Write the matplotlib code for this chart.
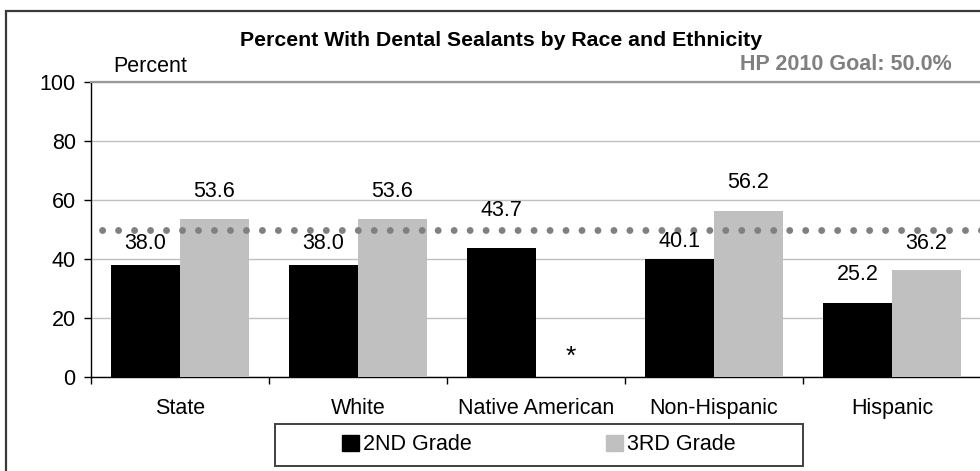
#!/usr/bin/env python

import numpy as np
import matplotlib
matplotlib.use('Agg')
import matplotlib.pyplot as plt
from matplotlib.patches import Rectangle, Patch

plt.rcParams['font.family'] = ['Liberation Sans', 'DejaVu Sans']

# data
groups = ['State', 'White', 'Native American', 'Non-Hispanic', 'Hispanic']
grade2 = [38.0, 38.0, 43.7, 40.1, 25.2]
grade3 = [53.6, 53.6, np.nan, 56.2, 36.2]   # Native American 3rd grade suppressed (*)
series_names = ['2ND Grade', '3RD Grade']
goal = 50.0
goal_text = 'HP 2010 Goal: 50.0%'
title = 'Percent With Dental Sealants by Race and Ethnicity'
yticks = [0, 20, 40, 60, 80, 100]

# label gaps above bars (points), hand placed in the original
pad2 = [8, 8, 19.5, 4.5, 13]
pad3 = [12, 12, 0, 13, 12]

FS = 15.5
W, H = 980, 471
fig = plt.figure(figsize=(W / 100., H / 100.), dpi=100)
fig.patch.set_facecolor('white')

# outer frame (cropped at right and bottom)
fig.patches.append(Rectangle((6. / W, -0.1), 1.2, (H - 11.) / H + 0.1,
	transform=fig.transFigure, fill=False, edgecolor='#3a3a3a', lw=1.6))

ax = fig.add_axes([91. / W, 94. / H, 890. / W, 295. / H])

x = np.arange(len(groups))
bw = 0.387
c2, c3 = '#000000', '#c0c0c0'
ax.bar(x - bw / 2, grade2, bw, color=c2, zorder=3)
ax.bar(x + bw / 2, np.nan_to_num(grade3), bw, color=c3, zorder=3)

for i in range(len(groups)):
	ax.annotate('%.1f' % grade2[i], (x[i] - bw / 2, grade2[i]), xytext=(0, pad2[i]),
		textcoords='offset points', ha='center', va='bottom', fontsize=FS, zorder=5)
	if np.isnan(grade3[i]):
		ax.annotate('*', (x[i] + bw / 2, 0), xytext=(0, 6), textcoords='offset points',
			ha='center', va='bottom', fontsize=19, zorder=5)
	else:
		ax.annotate('%.1f' % grade3[i], (x[i] + bw / 2, grade3[i]), xytext=(0, pad3[i]),
			textcoords='offset points', ha='center', va='bottom', fontsize=FS, zorder=5)

# goal line, round gray dots
ax.axhline(goal, color='#808080', lw=5.0, linestyle=(0.7, (0.001, 2.3)),
	dash_capstyle='round', zorder=4)

ax.set_xlim(-0.5, len(groups) - 0.5)
ax.set_ylim(0, 100)
ax.set_yticks(yticks)
ax.set_yticklabels([str(v) for v in yticks], fontsize=FS)
ax.yaxis.grid(True, color='#c0c0c0', lw=1.0, zorder=0)
ax.tick_params(axis='y', length=5, width=1, direction='out', pad=6)

ax.set_xticks(np.arange(len(groups) + 1) - 0.5)
ax.set_xticklabels([])
ax.tick_params(axis='x', which='major', length=5, width=1, direction='out')
ax.set_xticks(x, minor=True)
ax.set_xticklabels(groups, minor=True, fontsize=FS)
ax.tick_params(axis='x', which='minor', length=0, pad=15)

ax.spines['right'].set_visible(False)
ax.spines['top'].set_color('#999999')
ax.spines['top'].set_linewidth(1.6)
ax.spines['left'].set_linewidth(1.0)
ax.spines['bottom'].set_linewidth(1.0)

fig.text(501. / W, 1 - 40. / H, title, ha='center', va='center', fontsize=15.3, fontweight='bold')
fig.text(113. / W, 1 - 67. / H, 'Percent', ha='left', va='center', fontsize=FS)
fig.text(952. / W, 1 - 65. / H, goal_text, ha='right', va='center', fontsize=15.5,
	fontweight='bold', color='#808080')

# legend box with two centred entries
lx0, lx1, ly0, ly1 = 275., 803., 424., 466.
fig.patches.append(Rectangle((lx0 / W, 1 - ly1 / H), (lx1 - lx0) / W, (ly1 - ly0) / H,
	transform=fig.transFigure, fill=False, edgecolor='#404040', lw=1.4))
mid = (lx0 + lx1) / 2
for name, col, cx in zip(series_names, [c2, c3], [(lx0 + mid) / 2, (mid + lx1) / 2]):
	fig.legend(handles=[Patch(color=col, label=name)], loc='center',
		bbox_to_anchor=(cx / W, 1 - 445. / H), frameon=False, fontsize=FS,
		handlelength=0.75, handleheight=0.75, handletextpad=0.2, borderpad=0)

fig.savefig('out.png', dpi=100)
